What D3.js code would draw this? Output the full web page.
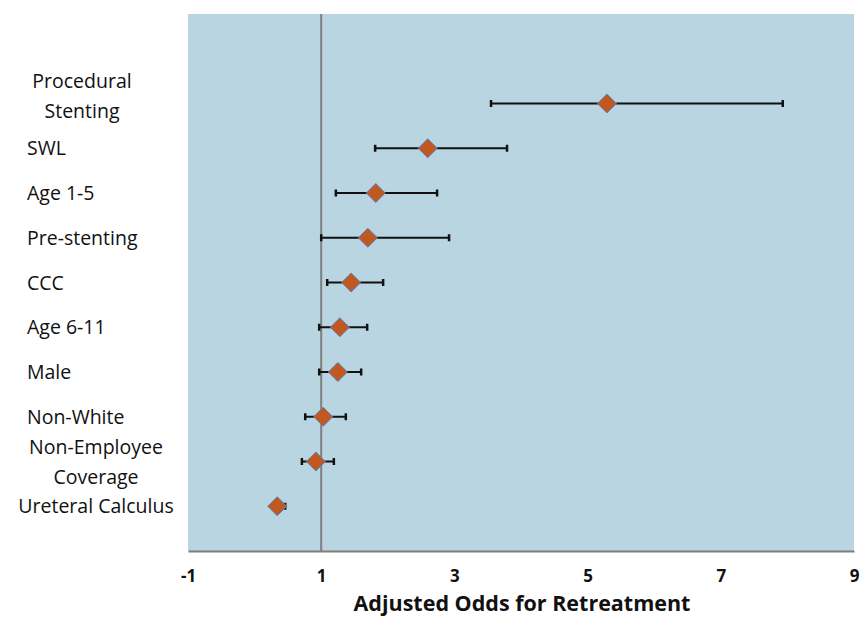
<!DOCTYPE html>
<html lang="en">
	<head>
		<meta charset="utf-8">
		<title>Adjusted Odds for Retreatment</title>
		<script type="text/javascript" src="https://cdnjs.cloudflare.com/ajax/libs/d3/7.8.5/d3.min.js"></script>
		<style type="text/css">
			body { margin: 0; background: #fff; }
			text { font-family: "Open Sans", "Noto Sans", sans-serif; fill: #111; }
		</style>
	</head>
	<body>
		<script type="text/javascript">

			//Data (top row first)
			var labels = [
				["Procedural", "Stenting"],
				["SWL"],
				["Age 1-5"],
				["Pre-stenting"],
				["CCC"],
				["Age 6-11"],
				["Male"],
				["Non-White"],
				["Non-Employee", "Coverage"],
				["Ureteral Calculus"]
			];
			var odds  = [5.29, 2.60, 1.82, 1.70, 1.45, 1.28, 1.25, 1.03, 0.92, 0.34];
			var lower = [3.55, 1.81, 1.22, 1.00, 1.09, 0.97, 0.97, 0.76, 0.71, 0.28];
			var upper = [7.93, 3.79, 2.74, 2.92, 1.93, 1.69, 1.60, 1.37, 1.19, 0.46];
			var xTicks = [-1, 1, 3, 5, 7, 9];

			//Width and height
			var w = 860;
			var h = 617;
			var margin = {top: 14, right: 6, bottom: 66, left: 188};

			var svg = d3.select("body")
						.append("svg")
						.attr("width", w)
						.attr("height", h);

			var xScale = d3.scaleLinear()
						   .domain([-1, 9])
						   .range([margin.left, w - margin.right]);

			//rows sit at 1..10 from the bottom, with room up to 12
			var yScale = d3.scaleLinear()
						   .domain([0, 12])
						   .range([h - margin.bottom, margin.top]);

			var rowY = i => yScale(labels.length - i);

			//Plot background
			svg.append("rect")
			   .attr("x", xScale(-1))
			   .attr("y", yScale(12))
			   .attr("width", xScale(9) - xScale(-1))
			   .attr("height", yScale(0) - yScale(12))
			   .attr("fill", "#b9d5e1");

			//Reference line at 1
			svg.append("line")
			   .attr("x1", xScale(1))
			   .attr("x2", xScale(1))
			   .attr("y1", yScale(12))
			   .attr("y2", yScale(0))
			   .attr("stroke", "#7f7f7f")
			   .attr("stroke-width", 2);

			//X axis
			var xAxis = d3.axisBottom(xScale)
						  .tickValues(xTicks)
						  .tickSize(0)
						  .tickPadding(19)
						  .tickFormat(d => String(d));

			var gx = svg.append("g")
				.attr("transform", `translate(0,${yScale(0)})`)
				.call(xAxis);
			gx.select(".domain")
			  .attr("stroke", "#7f7f7f")
			  .attr("stroke-width", 2);
			gx.selectAll(".tick text")
			  .attr("fill", "#111")
			  .style("font-family", "'Open Sans', sans-serif")
			  .style("font-size", "17px")
			  .style("font-weight", "bold");

			//Axis title
			svg.append("text")
			   .attr("x", 522)
			   .attr("y", 611)
			   .attr("text-anchor", "middle")
			   .style("font-size", "21.5px")
			   .style("font-weight", "bold")
			   .text("Adjusted Odds for Retreatment");

			//Error bars
			var rows = svg.selectAll("g.row")
						  .data(odds)
						  .enter()
						  .append("g")
						  .attr("class", "row");

			rows.append("line")
				.attr("x1", (d, i) => xScale(lower[i]))
				.attr("x2", (d, i) => xScale(upper[i]))
				.attr("y1", (d, i) => rowY(i))
				.attr("y2", (d, i) => rowY(i))
				.attr("stroke", "#111")
				.attr("stroke-width", 2);

			[lower, upper].forEach(arr => {
				rows.append("line")
					.attr("x1", (d, i) => xScale(arr[i]))
					.attr("x2", (d, i) => xScale(arr[i]))
					.attr("y1", (d, i) => rowY(i) - 3.5)
					.attr("y2", (d, i) => rowY(i) + 3.5)
					.attr("stroke", "#111")
					.attr("stroke-width", 2.5);
			});

			//Diamonds
			rows.append("path")
				.attr("d", "M0,-9.5L9.5,0L0,9.5L-9.5,0Z")
				.attr("transform", (d, i) => `translate(${xScale(d)},${rowY(i)})`)
				.attr("fill", "#c0581f")
				.attr("stroke", "#5b7fc0")
				.attr("stroke-width", 1);

			//Row labels
			svg.selectAll("text.label")
			   .data(labels)
			   .enter()
			   .append("text")
			   .attr("class", "label")
			   .style("font-size", "19.5px")
			   .each(function(d, i) {
					var t = d3.select(this);
					var centred = d.length > 1 || d[0].length > 14;
					t.attr("text-anchor", centred ? "middle" : "start");
					var x0 = centred ? (i === 0 ? 82 : 96) : 27;
					var y0 = rowY(i) + 7 - (d.length - 1) * 15 - (i === 0 ? 8 : 0);
					d.forEach((line, k) => {
						t.append("tspan")
						 .attr("x", x0)
						 .attr("y", y0 + k * 30)
						 .text(line);
					});
			   });

		</script>
	</body>
</html>
